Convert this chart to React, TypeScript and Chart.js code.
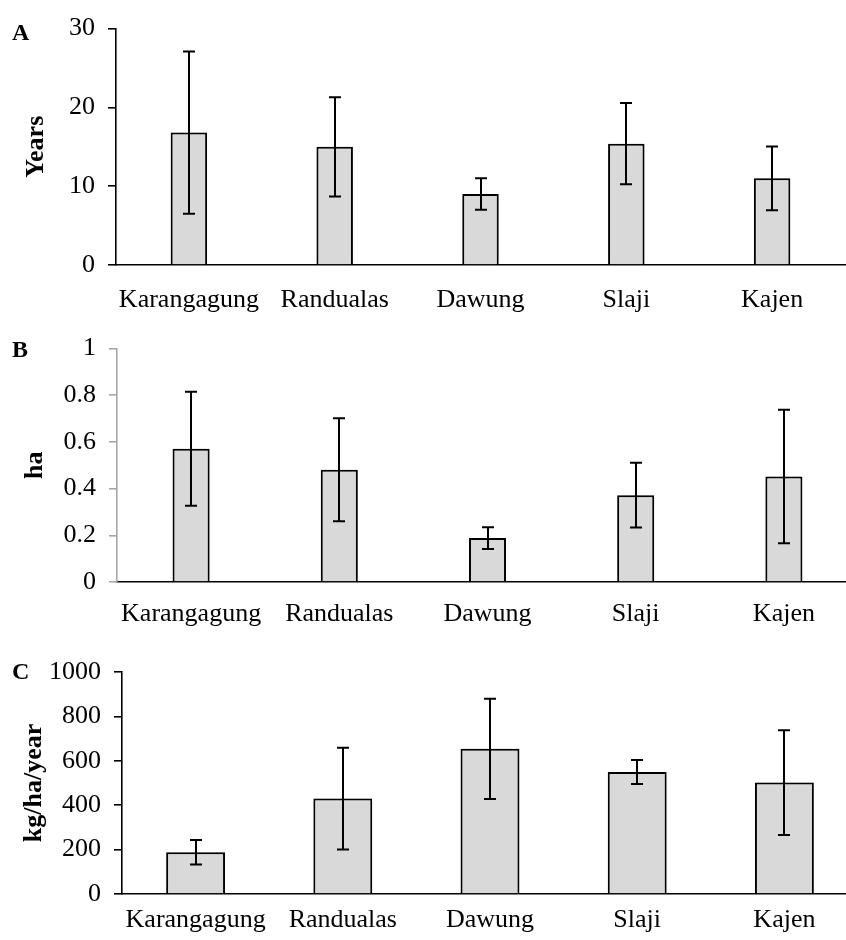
import React, { useEffect, useRef } from 'react';
import { Chart, registerables } from 'chart.js';

Chart.register(...registerables);

// ---------- data ----------
const categories = ['Karangagung', 'Randualas', 'Dawung', 'Slaji', 'Kajen'];

const yearsMean = [16.8, 15.0, 9.0, 15.4, 11.0];
const yearsSd = [10.3, 6.3, 2.0, 5.15, 4.05];

const areaMean = [0.571, 0.481, 0.188, 0.372, 0.452];
const areaSd = [0.244, 0.221, 0.047, 0.139, 0.286];

const yieldMean = [188, 430, 654, 550, 502];
const yieldSd = [55, 229, 226, 54, 236];

const yearsAxis = { min: 0, max: 30, step: 10 };
const areaAxis = { min: 0, max: 1, step: 0.2 };
const yieldAxis = { min: 0, max: 1000, step: 200 };

const FONT = "'Liberation Serif', 'Times New Roman', serif";

const errorBarPlugin = {
  id: 'errorBarsAndShadow',
  beforeDatasetsDraw(chart: any) {
    const ctx = chart.ctx;
    ctx.save();
    ctx.shadowColor = 'rgba(0,0,0,0.25)';
    ctx.shadowBlur = 5;
  },
  afterDatasetsDraw(chart: any) {
    const ctx = chart.ctx;
    ctx.restore();
    const ds = chart.data.datasets[0];
    const meta = chart.getDatasetMeta(0);
    const yScale = chart.scales.y;
    const errs: number[] = ds.errors || [];
    ctx.save();
    ctx.strokeStyle = '#000';
    ctx.lineWidth = 2;
    meta.data.forEach((bar: any, i: number) => {
      const v = ds.data[i];
      const e = errs[i] || 0;
      const top = yScale.getPixelForValue(v + e);
      const bot = yScale.getPixelForValue(v - e);
      const x = Math.round(bar.x);
      const cap = 6;
      ctx.beginPath();
      ctx.moveTo(x, top);
      ctx.lineTo(x, bot);
      ctx.moveTo(x - cap, top);
      ctx.lineTo(x + cap, top);
      ctx.moveTo(x - cap, bot);
      ctx.lineTo(x + cap, bot);
      ctx.stroke();
    });
    ctx.restore();
  },
};

const panelLabelPlugin = {
  id: 'panelLabel',
  afterDraw(chart: any, _args: any, opts: any) {
    if (!opts || !opts.text) return;
    const ctx = chart.ctx;
    ctx.save();
    ctx.font = `bold 24px ${FONT}`;
    ctx.fillStyle = '#000';
    ctx.textBaseline = 'alphabetic';
    ctx.textAlign = 'left';
    ctx.fillText(opts.text, opts.x, opts.y);
    ctx.restore();
  },
};

type PanelProps = {
  top: number;
  width: number;
  height: number;
  left: number;
  right: number;
  chartTop: number;
  chartBottom: number;
  values: number[];
  errors: number[];
  axis: { min: number; max: number; step: number };
  title: string;
  letter: string;
  letterY: number;
  barPct: number;
  yAxisColor: string;
  xPad: number;
  titlePad: number;
};

function Panel(p: PanelProps) {
  const ref = useRef<HTMLCanvasElement | null>(null);
  useEffect(() => {
    if (!ref.current) return;
    const chart = new Chart(ref.current, {
      type: 'bar',
      data: {
        labels: categories,
        datasets: [
          {
            data: p.values,
            errors: p.errors,
            backgroundColor: '#d9d9d9',
            borderColor: '#000',
            borderWidth: 2,
            barPercentage: p.barPct,
            categoryPercentage: 1,
          } as any,
        ],
      },
      options: {
        responsive: false,
        animation: false,
        devicePixelRatio: 1,
        layout: {
          padding: { top: p.chartTop, right: p.width - p.right, bottom: 0, left: 0 },
        },
        plugins: {
          legend: { display: false },
          tooltip: { enabled: false },
          title: { display: false },
          panelLabel: { text: p.letter, x: 12, y: p.letterY },
        } as any,
        scales: {
          x: {
            type: 'category',
            offset: true,
            grid: { display: false },
            border: { display: true, color: '#000', width: 1.6 },
            ticks: {
              color: '#000',
              font: { family: FONT, size: 26 },
              padding: p.xPad,
              maxRotation: 0,
              autoSkip: false,
            },
            afterFit: (s: any) => {
              s.height = p.height - p.chartBottom;
            },
          },
          y: {
            type: 'linear',
            min: p.axis.min,
            max: p.axis.max,
            grid: {
              drawOnChartArea: false,
              drawTicks: true,
              tickLength: 8,
              color: p.yAxisColor,
              lineWidth: 1.6,
            },
            border: { display: true, color: p.yAxisColor, width: 1.6 },
            ticks: {
              stepSize: p.axis.step,
              color: '#000',
              font: { family: FONT, size: 26 },
              padding: 13,
              callback: (v: any) => String(Number(Number(v).toFixed(6))),
            },
            title: {
              display: true,
              text: p.title,
              color: '#000',
              font: { family: FONT, size: 26, weight: 'bold' },
              padding: { top: p.titlePad, bottom: 0 },
            },
            afterFit: (s: any) => {
              s.width = p.left;
            },
          },
        },
      } as any,
      plugins: [errorBarPlugin, panelLabelPlugin],
    });
    return () => chart.destroy();
  }, []);
  return (
    <canvas
      ref={ref}
      width={p.width}
      height={p.height}
      style={{ position: 'absolute', left: 0, top: p.top, width: p.width, height: p.height }}
    />
  );
}

export default function App() {
  useEffect(() => {
    document.body.style.margin = '0';
  }, []);
  return (
    <div style={{ position: 'relative', width: 846, height: 940, overflow: 'hidden', background: '#fff' }}>
      <Panel
        top={0}
        width={846}
        height={320}
        left={116}
        right={845}
        chartTop={26}
        chartBottom={265}
        values={yearsMean}
        errors={yearsSd}
        axis={yearsAxis}
        title="Years"
        letter="A"
        letterY={39.5}
        barPct={0.25}
        yAxisColor="#000"
        xPad={11.5}
        titlePad={21}
      />
      <Panel
        top={320}
        width={860}
        height={320}
        left={117}
        right={858}
        chartTop={24}
        chartBottom={262}
        values={areaMean}
        errors={areaSd}
        axis={areaAxis}
        title="ha"
        letter="B"
        letterY={36.7}
        barPct={0.25}
        yAxisColor="#a6a6a6"
        xPad={9}
        titlePad={20}
      />
      <Panel
        top={620}
        width={860}
        height={320}
        left={122}
        right={858}
        chartTop={52}
        chartBottom={274}
        values={yieldMean}
        errors={yieldSd}
        axis={yieldAxis}
        title="kg/ha/year"
        letter="C"
        letterY={59.3}
        barPct={0.4}
        yAxisColor="#000"
        xPad={3}
        titlePad={19}
      />
    </div>
  );
}
